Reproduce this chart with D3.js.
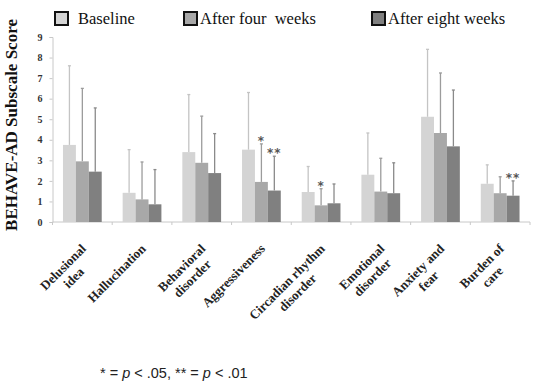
<!DOCTYPE html>
<html>
<head>
<meta charset="utf-8">
<script src="https://cdn.jsdelivr.net/npm/d3@7"></script>
<style>
  body { margin: 0; background: #fff; }
  svg { display: block; }
</style>
</head>
<body>
<svg id="chart" width="536" height="391"></svg>
<script>
// ---------------- Дані ----------------
const categories = ["Delusional|idea", "Hallucination", "Behavioral|disorder", "Aggressiveness",
  "Circadian rhythm|disorder", "Emotional|disorder", "Anxiety and|fear", "Burden of|care"];
const seriesNames = ["Baseline", "After four  weeks", "After eight weeks"];

const baseline   = [3.75, 1.42, 3.40, 3.52, 1.46, 2.30, 5.12, 1.86];
const afterFour  = [2.95, 1.10, 2.88, 1.95, 0.81, 1.48, 4.33, 1.40];
const afterEight = [2.45, 0.86, 2.38, 1.53, 0.91, 1.40, 3.68, 1.28];

// верхня частина похибки (SD)
const baselineSD   = [3.85, 2.10, 2.80, 2.78, 1.24, 2.03, 3.28, 0.92];
const afterFourSD  = [3.55, 1.82, 2.27, 1.85, 0.81, 1.62, 2.92, 0.80];
const afterEightSD = [3.10, 1.69, 1.92, 1.67, 0.94, 1.48, 2.74, 0.72];

const afterFourSig  = ["", "", "", "*", "*", "", "", ""];
const afterEightSig = ["", "", "", "**", "", "", "", "**"];

const yTicks = [0, 1, 2, 3, 4, 5, 6, 7, 8, 9];

const svg = d3.select("#chart");
const serif = "'Liberation Serif', 'Times New Roman', serif";

const colors = ["#d4d4d4", "#a8a8a8", "#808080"];
const errColors = ["#c4c4c4", "#9c9c9c", "#8a8a8a"];

const series = [
  { name: seriesNames[0], values: baseline, sd: baselineSD, sig: null },
  { name: seriesNames[1], values: afterFour, sd: afterFourSD, sig: afterFourSig },
  { name: seriesNames[2], values: afterEight, sd: afterEightSD, sig: afterEightSig }
];

// ---------------- Шкали ----------------
const x0 = d3.scaleBand().domain(categories).range([52.5, 530]).padding(0);
const x1 = d3.scaleBand().domain(d3.range(3)).range([0, x0.bandwidth()])
  .paddingInner(0).paddingOuter(0.81);
const y = d3.scaleLinear().domain([0, 9]).range([222, 37]);

// Вісь Y
const yAxis = svg.append("g")
  .attr("transform", "translate(52.5,0)")
  .call(d3.axisLeft(y).tickValues(yTicks).tickSize(3).tickPadding(7));
yAxis.select(".domain").attr("stroke", "#c8c8c8");
yAxis.selectAll(".tick line").attr("stroke", "#c8c8c8");
yAxis.selectAll("text")
  .attr("font-family", serif).attr("font-weight", "bold")
  .attr("font-size", 10).attr("fill", "#333");

// Вісь X (поділки між категоріями)
const xAxis = svg.append("g")
  .attr("transform", "translate(0,222)");
xAxis.append("line")
  .attr("x1", 52.5).attr("x2", 530)
  .attr("stroke", "#c8c8c8");
xAxis.selectAll("line.tick")
  .data(categories.concat(["end"]))
  .enter()
  .append("line")
  .attr("class", "tick")
  .attr("x1", (d, i) => i < categories.length ? x0(d) : x0.range()[1])
  .attr("x2", (d, i) => i < categories.length ? x0(d) : x0.range()[1])
  .attr("y1", 0).attr("y2", 3)
  .attr("stroke", "#c8c8c8");

// Стовпці
const groups = svg.append("g")
  .selectAll("g")
  .data(series)
  .enter()
  .append("g");

groups.selectAll("rect")
  .data((s, si) => s.values.map((v, i) => ({ v, i, si })))
  .enter()
  .append("rect")
  .attr("x", d => x0(categories[d.i]) + x1(d.si))
  .attr("y", d => y(d.v))
  .attr("width", x1.bandwidth())
  .attr("height", d => y(0) - y(d.v))
  .attr("fill", d => colors[d.si]);

// Похибки (лише верхня частина)
const errs = groups.selectAll("g.err")
  .data((s, si) => s.values.map((v, i) => ({ v, sd: s.sd[i], i, si })))
  .enter()
  .append("g")
  .attr("class", "err")
  .attr("stroke", d => errColors[d.si])
  .attr("stroke-width", 1.3);

errs.append("line")
  .attr("x1", d => x0(categories[d.i]) + x1(d.si) + x1.bandwidth() / 2)
  .attr("x2", d => x0(categories[d.i]) + x1(d.si) + x1.bandwidth() / 2)
  .attr("y1", d => y(d.v))
  .attr("y2", d => y(d.v + d.sd));

errs.append("line")
  .attr("x1", d => x0(categories[d.i]) + x1(d.si) + x1.bandwidth() / 2 - 1.5)
  .attr("x2", d => x0(categories[d.i]) + x1(d.si) + x1.bandwidth() / 2 + 1.5)
  .attr("y1", d => y(d.v + d.sd))
  .attr("y2", d => y(d.v + d.sd));

// Зірочки значущості
groups.filter(s => s.sig)
  .selectAll("text")
  .data((s, si) => s.values.map((v, i) => ({ v, sd: s.sd[i], mark: s.sig[i], i, si: si + 1 })).filter(d => d.mark))
  .enter()
  .append("text")
  .attr("x", d => x0(categories[d.i]) + x1(d.si) + x1.bandwidth() / 2)
  .attr("y", d => y(d.v + d.sd) + 1)
  .attr("text-anchor", "middle")
  .attr("font-family", "'DejaVu Sans', sans-serif")
  .attr("font-size", 12)
  .attr("font-weight", "bold")
  .attr("letter-spacing", 1)
  .attr("fill", "#555")
  .text(d => d.mark);

// Підписи категорій (повернуті)
const labels = svg.append("g")
  .selectAll("text")
  .data(categories)
  .enter()
  .append("text")
  .attr("transform", d => `translate(${x0(d) + x0.bandwidth() / 2 + 1},246) rotate(-45)`)
  .attr("text-anchor", "end")
  .attr("font-family", serif)
  .attr("font-weight", "bold")
  .attr("font-size", 13)
  .attr("fill", "#222");

labels.each(function(d) {
  const t = d3.select(this);
  const lines = d.split("|");
  const spans = lines.map((line, k) => t.append("tspan")
    .attr("x", 0)
    .attr("y", 5 + k * 15)
    .text(line));
  const widths = spans.map(s => s.node().getComputedTextLength());
  const maxW = d3.max(widths);
  spans.forEach((s, k) => s.attr("x", -(maxW - widths[k]) / 2));
});

// Назва осі Y
svg.append("text")
  .attr("transform", "translate(17,125) rotate(-90)")
  .attr("text-anchor", "middle")
  .attr("font-family", serif)
  .attr("font-weight", "bold")
  .attr("font-size", 17)
  .attr("fill", "#111")
  .text("BEHAVE-AD Subscale Score");

// Легенда
const legendX = [55, 184, 372];
const legend = svg.append("g")
  .selectAll("g")
  .data(seriesNames)
  .enter()
  .append("g")
  .attr("transform", (d, i) => `translate(${legendX[i]},0)`);

legend.append("rect")
  .attr("x", 0).attr("y", 12)
  .attr("width", 13).attr("height", 13)
  .attr("fill", (d, i) => colors[i])
  .attr("stroke", "#111")
  .attr("stroke-width", 2);

legend.append("text")
  .attr("x", (d, i) => i === 0 ? 23 : 16)
  .attr("y", 24)
  .attr("font-family", serif)
  .attr("font-size", 16.5)
  .attr("fill", "#111")
  .style("white-space", "pre")
  .text(d => d);

// Примітка
const note = svg.append("text")
  .attr("x", 100)
  .attr("y", 378)
  .attr("font-family", "'Liberation Sans', Arial, sans-serif")
  .attr("font-size", 14.5)
  .attr("fill", "#222");
note.append("tspan").text("* = ");
note.append("tspan").attr("font-style", "italic").text("p");
note.append("tspan").text(" < .05, ** = ");
note.append("tspan").attr("font-style", "italic").text("p");
note.append("tspan").text(" < .01");
</script>
</body>
</html>
